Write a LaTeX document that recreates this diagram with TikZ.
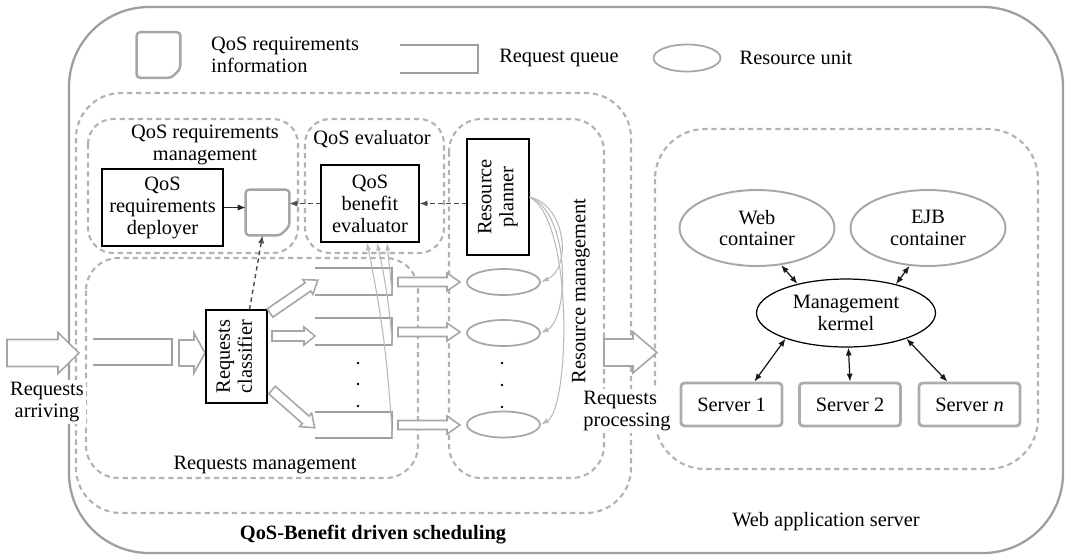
\documentclass[tikz,border=0pt]{standalone}
\usepackage{fontspec}
\setmainfont{Liberation Serif}
\usepackage{graphicx}
\usetikzlibrary{shapes.geometric,arrows.meta,calc}

\newcommand\barr[7]{% x, y, angle, length, shaft half, head half, head length
  \begin{scope}[shift={(#1,#2)},rotate=#3]
  \draw[barrow] (0,-#5) -- ({#4-#7},-#5) -- ({#4-#7},-#6) -- (#4,0) -- ({#4-#7},#6) -- ({#4-#7},#5) -- (0,#5) -- cycle;
  \end{scope}}
\newcommand\drawqueue[1]{\draw[qline] (#1.north west) -- (#1.north east) -- (#1.south east) -- (#1.south west);}
\newcommand\drawdoc[1]{\draw[docline] (#1.north west) -- (#1.north east) -- ($(#1.south east)+(0,-9)$) -- ($(#1.south east)+(-9,0)$) -- (#1.south west) -- cycle;}

\begin{document}
\begin{tikzpicture}[x=0.02cm,y=-0.02cm,
  font=\fontsize{11.6pt}{12.5pt}\selectfont,
  outerframe/.style={draw=gray!75, line width=1.3pt, rounded corners=1.6cm},
  dbox/.style={draw=gray!60, line width=1.2pt, dash pattern=on 3pt off 2.2pt},
  blk/.style={draw=black, line width=0.6pt, fill=white, align=center, inner sep=1pt},
  qn/.style={draw=none, inner sep=0pt},
  qline/.style={draw=gray!75, line width=1.1pt},
  docn/.style={draw=none, inner sep=0pt, minimum width=0.86cm, minimum height=0.9cm},
  docline/.style={draw=gray!70, line width=1.4pt, rounded corners=2pt},
  runit/.style={ellipse, draw=gray!70, line width=1pt, inner sep=0pt, minimum width=1.46cm, minimum height=0.52cm},
  barrow/.style={draw=gray!70, line width=0.9pt, fill=white},
  cont/.style={ellipse, draw=gray!70, line width=1.1pt, align=center, inner sep=0pt, minimum width=3.1cm, minimum height=1.52cm},
  kern/.style={ellipse, draw=black, line width=0.7pt, align=center, inner sep=0pt, minimum width=3.58cm, minimum height=1.36cm},
  srv/.style={draw=gray!65, line width=1.6pt, rounded corners=2pt, minimum width=2.02cm, minimum height=0.86cm, inner sep=1pt},
  tipline/.style={draw=gray!30!black, line width=0.6pt, -{Latex[length=4.5pt,width=3.5pt]}},
  dtipline/.style={draw=gray!60!black, line width=0.8pt, dash pattern=on 2.5pt off 2pt, -{Latex[length=4.5pt,width=3.5pt]}},
  thinline/.style={draw=gray!55, line width=0.6pt, -{Latex[length=4.5pt,width=3pt]}},
  dbl/.style={draw=gray!20!black, line width=0.7pt, {Latex[length=4.5pt,width=3.5pt]}-{Latex[length=4.5pt,width=3.5pt]}},
  dotc/.style={fill=black}
]
\useasboundingbox (0,0) rectangle (1068,556);

% outer frame
\draw[outerframe] (69,7) rectangle (1063,553);

% dashed group boxes
\draw[dbox, rounded corners=0.9cm] (76,93) rectangle (631,513);
\draw[dbox, rounded corners=0.5cm] (88,119) rectangle (298,253);
\draw[dbox, rounded corners=0.5cm] (305,119) rectangle (444,253);
\draw[dbox, rounded corners=0.65cm] (86,258) rectangle (418,478);
\draw[dbox, rounded corners=0.65cm] (449,119) rectangle (604,478);
\draw[dbox, rounded corners=1cm] (655,129) rectangle (1038,469);

% legend
\node[docn] (ldoc) at (158.5,55) {};
\drawdoc{ldoc}
\node[anchor=west, align=left] (ltxta) at (205,55) {QoS requirements\\information};
\node[qn, minimum width=1.56cm, minimum height=0.56cm] (lq) at (439,59) {};
\drawqueue{lq}
\node (ltxtb) at (559,58) {Request queue};
\node[runit, minimum width=1.34cm, minimum height=0.54cm] (lunit) at (687,58) {};
\node (ltxtc) at (796,58) {Resource unit};

% group labels
\node[align=center] (qrmlbl) at (205,145) {QoS requirements\\management};
\node (qelbl) at (372,139) {QoS evaluator};
\node (rqlbl) at (265,465) {Requests management};
\node[rotate=90] (rmlbl) at (581,291) {Resource management};
\node (schlbl) at (373,535) {\bfseries QoS-Benefit driven scheduling};
\node (wlbl) at (826,522) {Web application server};

% QoS management nodes
\node[blk, minimum width=2.42cm, minimum height=1.54cm] (dep) at (162.5,207.5) {QoS\\requirements\\deployer};
\node[docn] (doc) at (267.5,212.5) {};
\drawdoc{doc}
\node[blk, minimum width=1.96cm, minimum height=1.54cm] (ev) at (370,203.5) {QoS\\benefit\\evaluator};
\node[blk, minimum width=1.24cm, minimum height=2.32cm] (plan) at (498,197) {\rotatebox{90}{\begin{tabular}{@{}c@{}}Resource\\planner\end{tabular}}};

\draw[tipline] (dep.east) -- (dep.east -| doc.west);
\draw[dtipline] (ev.west) -- (ev.west -| doc.east);
\draw[dtipline] (plan.west |- ev.east) -- (ev.east);

% requests part
\barr{7}{353}{0}{72}{13.5}{20.5}{21}
\node[qn, minimum width=1.58cm, minimum height=0.52cm] (qin) at (132.5,352) {};
\drawqueue{qin}
\barr{179}{353}{0}{26}{13}{20}{11}
\node[blk, minimum width=1.22cm, minimum height=1.86cm] (cls) at (236.5,356.5) {\rotatebox{90}{\begin{tabular}{@{}c@{}}Requests\\classifier\end{tabular}}};
\draw[dtipline] ($(cls.north)+(13,0)$) -- ($(doc.south)+(-5,0)$);

\barr{270}{313}{34.5}{58}{5}{9}{12}
\barr{272}{336}{0}{43}{5}{9}{11}
\barr{272}{390}{-41.5}{57}{5}{9}{12}

\node[qn, minimum width=1.54cm, minimum height=0.54cm] (q1) at (353.5,281.5) {};
\node[qn, minimum width=1.54cm, minimum height=0.54cm] (q2) at (353.5,331.5) {};
\node[qn, minimum width=1.54cm, minimum height=0.52cm] (q3) at (353.5,425) {};
\drawqueue{q1}
\drawqueue{q2}
\drawqueue{q3}
\fill[dotc] (358,363) circle (0.8pt) (358,384) circle (0.8pt) (358,406) circle (0.8pt);

\draw[thinline] (q3.south east) to[bend right=4] ($(ev.south)+(-3,0)$);
\draw[thinline] (q2.south east) to[bend right=4] ($(ev.south)+(7,0)$);
\draw[thinline] (q1.south east) -- ($(ev.south)+(17,0)$);

\barr{398}{282}{0}{62}{4.5}{9}{13}
\barr{398}{332}{0}{62}{4.5}{9}{13}
\barr{398}{425}{0}{62}{4.5}{9}{13}

\node[runit] (e1) at (503.5,282) {};
\node[runit] (e2) at (503.5,333) {};
\node[runit] (e3) at (503.5,424.5) {};
\fill[dotc] (502,363) circle (0.8pt) (502,385) circle (0.8pt) (502,407) circle (0.8pt);

\draw[thinline] (plan.east) .. controls (566,205) and (572,268) .. (e1.east);
\draw[thinline] (plan.east) .. controls (570,212) and (570,318) .. (e2.east);
\draw[thinline] (plan.east) .. controls (574,220) and (570,408) .. (e3.east);

% requests processing
\barr{604}{352.5}{0}{53}{13.5}{20.5}{24}
\node[fill=white, align=center, inner sep=1pt] (arrlbl) at (47,402) {Requests\\arriving};
\node[fill=white, align=left, inner sep=1pt] (proclbl) at (627,411) {Requests\\processing};

% web application server
\node[cont] (web) at (757,228) {Web\\container};
\node[cont] (ejb) at (928,228) {EJB\\container};
\node[kern] (ker) at (846,313) {Management\\kermel};
\node[srv] (s1) at (731.5,404.5) {Server 1};
\node[srv] (s2) at (850,404.5) {Server 2};
\node[srv] (sn) at (969.5,404.5) {Server \textit{n}};

\draw[dbl] (web.-57) -- (ker.149);
\draw[dbl] (ejb.-116) -- (ker.30);
\draw[dbl] (ker.203) -- (s1.45);
\draw[dbl] (ker.-86) -- (s2.north);
\draw[dbl] (ker.-23) -- (sn.134);
\end{tikzpicture}
\end{document}
